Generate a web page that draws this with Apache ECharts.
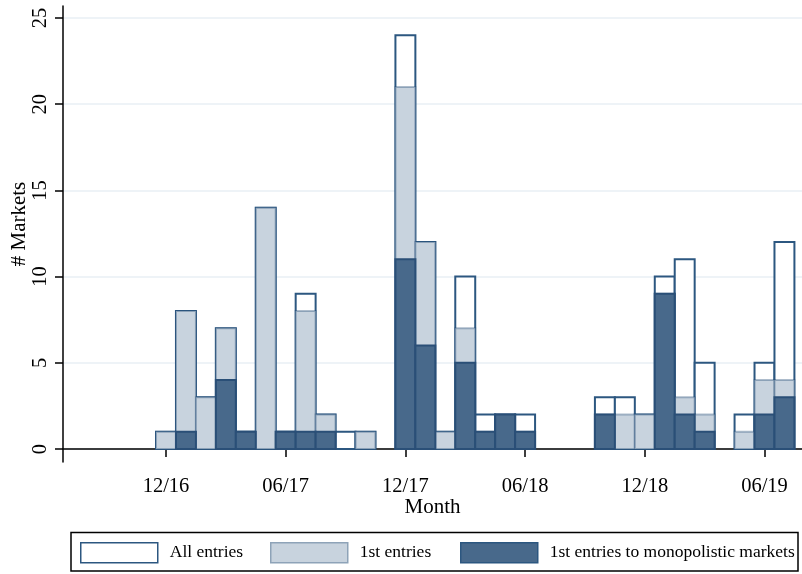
<!DOCTYPE html>
<html>
<head>
<meta charset="utf-8">
<title>Market entries by month</title>
<script src="https://cdn.jsdelivr.net/npm/echarts@6/dist/echarts.min.js"></script>
<style>
  html, body { margin: 0; padding: 0; background: #fff; }
  #chart { width: 802px; height: 574px; }
</style>
</head>
<body>
<div id="chart"></div>
<script>
// Monthly entry counts (months with no entries are omitted)
const months = ['2016-12','2017-01','2017-02','2017-03','2017-04','2017-05','2017-06','2017-07','2017-08','2017-09','2017-10',
                '2017-12','2018-01','2018-02','2018-03','2018-04','2018-05','2018-06',
                '2018-10','2018-11','2018-12','2019-01','2019-02','2019-03','2019-05','2019-06','2019-07'];
const allEntries   = [1, 8, 3, 7, 1, 14, 1, 9, 2, 1, 1, 24, 12, 1, 10, 2, 2, 2, 3, 3, 2, 10, 11, 5, 2, 5, 12];
const firstEntries = [1, 8, 3, 7, 1, 14, 1, 8, 2, 0, 1, 21, 12, 1, 7, 1, 2, 1, 2, 2, 2, 9, 3, 2, 1, 4, 4];
const monoEntries  = [0, 1, 0, 4, 1, 0, 1, 1, 1, 0, 0, 11, 6, 0, 5, 1, 2, 1, 2, 0, 0, 9, 2, 1, 0, 2, 3];

const xTickMonths = ['2016-12','2017-06','2017-12','2018-06','2018-12','2019-06'];
const yTicks = [0, 5, 10, 15, 20, 25];
const seriesNames = ['All entries', '1st entries', '1st entries to monopolistic markets'];

// month string -> month count since Jan 2016
function monthIndex(s) {
  const [y, m] = s.split('-').map(Number);
  return (y - 2016) * 12 + (m - 1);
}
function monthLabel(idx) {
  const m = (idx % 12) + 1;
  const y = 2016 + Math.floor(idx / 12);
  return String(m).padStart(2, '0') + '/' + String(y % 100).padStart(2, '0');
}

const FONT = 'Liberation Serif';

const styles = [
  { fill: '#ffffff', stroke: '#2c5780', lineWidth: 2 },
  { fill: '#c8d3de', stroke: 'rgba(40,80,120,0.38)', lineWidth: 2 },
  { fill: '#48698b', stroke: '#2a4f77', lineWidth: 2 }
];

function makeSeries(name, values, st) {
  const data = months.map((m, i) => [monthIndex(m), values[i]]).filter(d => d[1] > 0);
  return {
    name: name,
    type: 'custom',
    data: data,
    itemStyle: { color: st.fill, borderColor: st.stroke, borderWidth: st.lineWidth },
    renderItem: function (params, api) {
      const x = api.value(0), v = api.value(1);
      const p0 = api.coord([x - 0.5, v]);
      const p1 = api.coord([x + 0.5, 0]);
      return {
        type: 'rect',
        shape: { x: p0[0], y: p0[1], width: p1[0] - p0[0], height: p1[1] - p0[1] },
        style: { fill: st.fill, stroke: st.stroke, lineWidth: st.lineWidth }
      };
    }
  };
}

function legendAt(left, i) {
  return {
    left: left, top: 542, padding: 0,
    data: [{ name: seriesNames[i], icon: 'rect',
             itemStyle: { color: styles[i].fill, borderColor: i === 1 ? '#8ea3b8' : '#2c5780', borderWidth: 1.5 } }],
    itemWidth: 77, itemHeight: 20,
    selectedMode: false,
    textStyle: { fontFamily: FONT, fontSize: 17.5, color: '#000', padding: [0, 0, 0, 7] }
  };
}

const chart = echarts.init(document.getElementById('chart'), null, { renderer: 'canvas' });
chart.setOption({
  animation: false,
  backgroundColor: '#ffffff',
  grid: { left: 63, right: 0, top: 6, bottom: 112, outerBoundsMode: 'none', containLabel: false },
  xAxis: {
    type: 'value',
    min: 5.837, max: 42.88,
    name: 'Month', nameLocation: 'middle', nameGap: 35, nameMoveOverlap: false,
    nameTextStyle: { fontFamily: FONT, fontSize: 21, color: '#000' },
    axisLine: { show: true, lineStyle: { color: '#000', width: 1.5 } },
    axisTick: { show: true, length: 8, customValues: xTickMonths.map(monthIndex), lineStyle: { color: '#000', width: 1.5 } },
    axisLabel: { customValues: xTickMonths.map(monthIndex), formatter: v => monthLabel(Math.round(v)),
                 fontFamily: FONT, fontSize: 20.5, color: '#000', margin: 14 },
    splitLine: { show: false }
  },
  yAxis: {
    type: 'value',
    min: -0.754, max: 25.696,
    name: '# Markets', nameLocation: 'middle', nameGap: 33, nameRotate: 90, nameMoveOverlap: false,
    nameTextStyle: { fontFamily: FONT, fontSize: 21, color: '#000', padding: [0, 0, 0, 20] },
    axisLine: { show: true, lineStyle: { color: '#000', width: 1.5 } },
    axisTick: { show: true, length: 8, customValues: yTicks, lineStyle: { color: '#000', width: 1.5 } },
    axisLabel: { customValues: yTicks, rotate: 90, fontFamily: FONT, fontSize: 20.5, color: '#000', margin: 12 },
    splitLine: { show: true, lineStyle: { color: '#e9eff4', width: 1.5 } }
  },
  legend: [legendAt(80, 0), legendAt(270, 1), legendAt(460, 2)],
  graphic: [{
    type: 'rect',
    shape: { x: 71, y: 532.5, width: 727, height: 38.5 },
    style: { fill: 'none', stroke: '#000', lineWidth: 1.5 },
    silent: true
  }],
  series: [
    makeSeries(seriesNames[0], allEntries, styles[0]),
    makeSeries(seriesNames[1], firstEntries, styles[1]),
    makeSeries(seriesNames[2], monoEntries, styles[2])
  ]
});
</script>
</body>
</html>
